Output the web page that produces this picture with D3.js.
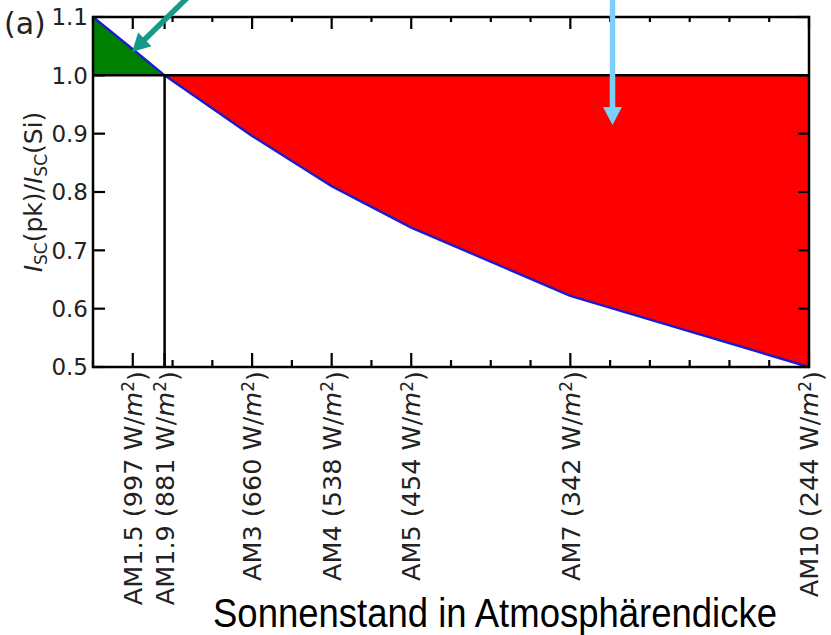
<!DOCTYPE html>
<html>
<head>
<meta charset="utf-8">
<script src="https://cdn.jsdelivr.net/npm/d3@7"></script>
<style>
  body { margin: 0; background: #fff; }
  svg { display: block; }
</style>
</head>
<body>
<div id="chart"></div>
<script>
// measured curve: air mass vs. short-circuit current ratio
const amValues = [1, 1.5, 1.9, 3, 4, 5, 7, 10];
const ratioValues = [1.1, 1.045, 1.0, 0.896, 0.81, 0.739, 0.622, 0.5];

// labelled positions on the x axis
const tickAM = [1.5, 1.9, 3, 4, 5, 7, 10];
const tickNames = ["AM1.5", "AM1.9", "AM3", "AM4", "AM5", "AM7", "AM10"];
const tickIrradiance = [997, 881, 660, 538, 454, 342, 244];
const yTicks = [0.5, 0.6, 0.7, 0.8, 0.9, 1.0, 1.1];

const crossAM = 1.9;
const refRatio = 1.0;

document.addEventListener("DOMContentLoaded", function () {
  const width = 831;
  const height = 635;
  const left = 93, right = 809, top = 17, bottom = 367;

  const svg = d3
    .select("#chart")
    .append("svg")
    .attr("width", width)
    .attr("height", height);

  const x = d3.scaleLinear().domain([1, 10]).range([left, right]);
  const y = d3.scaleLinear().domain([0.5, 1.1]).range([bottom, top]);

  const data = amValues.map((am, i) => ({ am, r: ratioValues[i] }));

  const area = d3
    .area()
    .x((d) => x(d.am))
    .y0(y(refRatio))
    .y1((d) => y(d.r));

  // green: gain region, red: loss region
  svg
    .append("path")
    .datum(data.filter((d) => d.am <= crossAM))
    .attr("d", area)
    .attr("fill", "#008000");

  svg
    .append("path")
    .datum(data.filter((d) => d.am >= crossAM))
    .attr("d", area)
    .attr("fill", "#ff0000");

  const line = d3
    .line()
    .x((d) => x(d.am))
    .y((d) => y(d.r));

  svg
    .append("path")
    .datum(data)
    .attr("d", line)
    .attr("fill", "none")
    .attr("stroke", "#1a1ad0")
    .attr("stroke-width", 2.4);

  // reference lines
  svg
    .append("line")
    .attr("x1", left)
    .attr("x2", right)
    .attr("y1", y(refRatio))
    .attr("y2", y(refRatio))
    .attr("stroke", "#000")
    .attr("stroke-width", 2.5);

  svg
    .append("line")
    .attr("x1", x(crossAM))
    .attr("x2", x(crossAM))
    .attr("y1", y(refRatio))
    .attr("y2", bottom)
    .attr("stroke", "#000")
    .attr("stroke-width", 2.5);

  // ticks (inward on all four sides)
  const minorAM = d3.range(1, 10.001, 0.5).filter((v) => !tickAM.includes(v));
  const xTicks = tickAM
    .map((v) => ({ v, len: 14 }))
    .concat(minorAM.map((v) => ({ v, len: 7 })));

  const tickG = svg.append("g").attr("stroke", "#000").attr("stroke-width", 2.2);

  tickG
    .selectAll(".xb")
    .data(xTicks)
    .join("line")
    .attr("x1", (d) => x(d.v))
    .attr("x2", (d) => x(d.v))
    .attr("y1", bottom)
    .attr("y2", (d) => bottom - d.len);

  tickG
    .selectAll(".xt")
    .data(xTicks)
    .join("line")
    .attr("x1", (d) => x(d.v))
    .attr("x2", (d) => x(d.v))
    .attr("y1", top)
    .attr("y2", (d) => top + d.len - 2);

  tickG
    .selectAll(".yl")
    .data(yTicks)
    .join("line")
    .attr("x1", left)
    .attr("x2", left + 12)
    .attr("y1", (d) => y(d))
    .attr("y2", (d) => y(d));

  tickG
    .selectAll(".yr")
    .data(yTicks)
    .join("line")
    .attr("x1", right)
    .attr("x2", right - 11)
    .attr("y1", (d) => y(d))
    .attr("y2", (d) => y(d));

  // y tick labels
  svg
    .selectAll(".ylab")
    .data(yTicks)
    .join("text")
    .attr("class", "ylab")
    .attr("x", left - 5)
    .attr("y", (d) => y(d))
    .attr("dy", "0.36em")
    .attr("text-anchor", "end")
    .attr("font-family", "DejaVu Sans")
    .attr("font-size", 23)
    .attr("fill", "#222")
    .text(d3.format(".1f"));

  // frame
  svg
    .append("rect")
    .attr("x", left)
    .attr("y", top)
    .attr("width", right - left)
    .attr("height", bottom - top)
    .attr("fill", "none")
    .attr("stroke", "#000")
    .attr("stroke-width", 2.5);

  // rotated x tick labels
  const xl = svg
    .selectAll(".xlab")
    .data(tickAM)
    .join("text")
    .attr("class", "xlab")
    .attr("transform", (d) => `translate(${x(d)},${bottom + 4}) rotate(-90)`)
    .attr("text-anchor", "end")
    .attr("dy", "0.36em")
    .attr("font-family", "DejaVu Sans")
    .attr("font-size", 25.5)
    .attr("fill", "#222");
  xl.append("tspan").text((d, i) => `${tickNames[i]} (${tickIrradiance[i]} W/`);
  xl.append("tspan").attr("font-style", "italic").text("m");
  xl.append("tspan").attr("dy", "-0.45em").attr("font-size", 17).text("2");
  xl.append("tspan").attr("dy", "0.45em").text(")");

  // y axis title
  const yt = svg
    .append("text")
    .attr("transform", "translate(42,192) rotate(-90)")
    .attr("text-anchor", "middle")
    .attr("font-family", "DejaVu Sans")
    .attr("font-size", 25)
    .attr("fill", "#222");
  yt.append("tspan").attr("font-style", "italic").text("I");
  yt.append("tspan").attr("dy", 5).attr("font-size", 17).text("SC");
  yt.append("tspan").attr("dy", -5).text("(pk)/");
  yt.append("tspan").attr("font-style", "italic").text("I");
  yt.append("tspan").attr("dy", 5).attr("font-size", 17).text("SC");
  yt.append("tspan").attr("dy", -5).text("(Si)");

  // panel letter
  svg
    .append("text")
    .attr("x", 4)
    .attr("y", 34)
    .attr("font-family", "DejaVu Sans")
    .attr("font-size", 30)
    .attr("fill", "#222")
    .text("(a)");

  // x axis title
  svg
    .append("text")
    .attr("x", 213)
    .attr("y", 627)
    .attr("font-family", "Liberation Sans, Arial")
    .attr("font-size", 40)
    .attr("textLength", 564)
    .attr("lengthAdjust", "spacingAndGlyphs")
    .attr("fill", "#000")
    .text("Sonnenstand in Atmosphärendicke");

  // annotation arrows (data space)
  function arrow(from, to, color) {
    const x1 = x(from[0]), y1 = y(from[1]);
    const x2 = x(to[0]), y2 = y(to[1]);
    const ang = Math.atan2(y2 - y1, x2 - x1);
    const headLen = 18, headW = 9.5;
    const bx = x2 - headLen * Math.cos(ang);
    const by = y2 - headLen * Math.sin(ang);
    svg
      .append("line")
      .attr("x1", x1)
      .attr("y1", y1)
      .attr("x2", bx + 2 * Math.cos(ang))
      .attr("y2", by + 2 * Math.sin(ang))
      .attr("stroke", color)
      .attr("stroke-width", 5.5);
    const px = -Math.sin(ang), py = Math.cos(ang);
    svg
      .append("path")
      .attr(
        "d",
        `M${x2},${y2}L${bx + headW * px},${by + headW * py}L${bx - headW * px},${by - headW * py}Z`
      )
      .attr("fill", color);
  }

  arrow([2.2, 1.135], [1.49, 1.04], "#159a8a");
  arrow([7.53, 1.135], [7.53, 0.915], "#7ccff8");
});
</script>
</body>
</html>
